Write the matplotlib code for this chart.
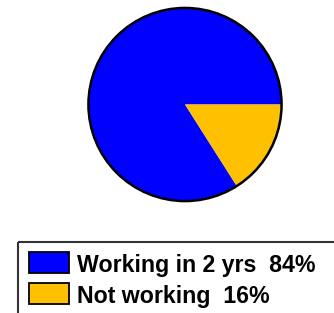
import matplotlib
matplotlib.use("Agg")
import matplotlib.pyplot as plt
from matplotlib.patches import Rectangle, Circle

labels = ["Working in 2 yrs  84%", "Not working  16%"]
values = [84, 16]
colors = ["#0000FF", "#FFC000"]

W, H = 334, 313
fig = plt.figure(figsize=(W / 100, H / 100), dpi=100)
fig.patch.set_facecolor("white")

# pie axes (pixel box: left 87, top 6, size 197)
px0, py0, pw, ph = 86.5, 6, 197, 197
ax = fig.add_axes([px0 / W, 1 - (py0 + ph) / H, pw / W, ph / H])
wedges, _ = ax.pie(values, colors=colors, startangle=0, counterclock=True,
                   wedgeprops=dict(linewidth=0, antialiased=True))
ax.add_patch(Circle((0, 0), 1, fill=False, edgecolor="black", linewidth=1.8))
ax.set_xlim(-1.02, 1.02)
ax.set_ylim(-1.02, 1.02)
ax.set_aspect("equal")
ax.axis("off")

# legend drawn in pixel coordinates
lax = fig.add_axes([0, 0, 1, 1])
lax.set_xlim(0, W)
lax.set_ylim(H, 0)
lax.axis("off")
lax.add_patch(Rectangle((18, 242), 330, 90, fill=False, edgecolor="#333333", linewidth=1.5))
rows_y = [252, 283]
for lab, col, y in zip(labels, colors, rows_y):
    lax.add_patch(Rectangle((28.5, y), 40.5, 20.5, facecolor=col, edgecolor="black", linewidth=1.3))
    lax.text(77, y + 20, lab, fontsize=16.7, fontweight="bold", family="Liberation Sans",
             va="baseline", ha="left", color="black")

fig.savefig("out.png", dpi=100)
